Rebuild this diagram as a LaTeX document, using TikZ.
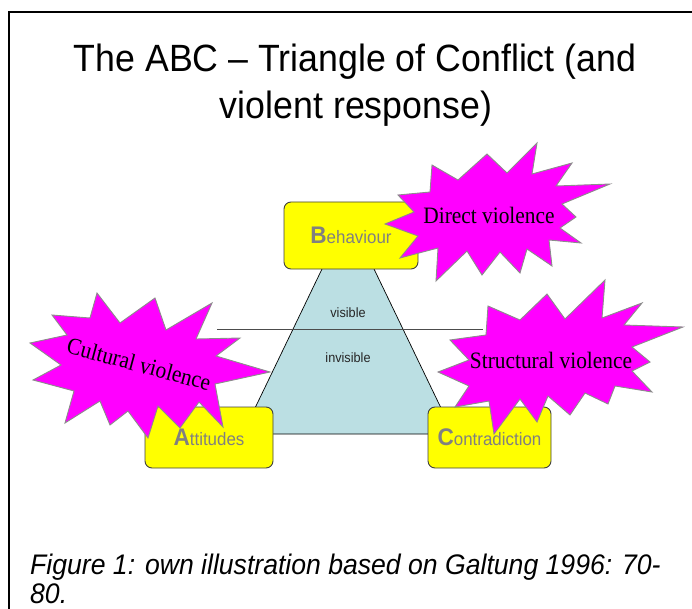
\documentclass[tikz,border=0pt]{standalone}
\usepackage{fontspec}
\setmainfont{Liberation Sans}[FakeStretch=0.94]
\newfontfamily\burstfont{Liberation Serif}[FakeStretch=0.91]
\usetikzlibrary{positioning}

\definecolor{boxyellow}{RGB}{255,255,0}
\definecolor{burstpink}{RGB}{255,0,255}
\definecolor{triblue}{RGB}{187,223,227}
\definecolor{lettergray}{RGB}{128,128,128}

\tikzset{
  abcbox/.style={draw=black!75, fill=boxyellow, rounded corners=7pt, line width=0.9pt,
    text=lettergray, inner sep=0pt},
  burst/.style={draw=black!45, fill=burstpink, line width=0.9pt, line join=miter},
  bursttext/.style={font=\burstfont\fontsize{23.5}{26}\selectfont, inner sep=0pt},
  layer/.style={font=\fontsize{13.5}{15}\selectfont, text=black!85, inner sep=0pt}
}

% big first letter, rest small
\newcommand{\abc}[2]{{\fontsize{24}{24}\selectfont\bfseries #1}{\fontsize{18}{18}\selectfont #2}}

\begin{document}
\begin{tikzpicture}[x=1pt, y=-1pt]
\useasboundingbox (0,0) rectangle (692,609);
% frame
\draw[line width=2pt] (8.5,609) -- (8.5,12.5) -- (692,12.5);

% title
\node (title1) [anchor=base, font=\fontsize{38}{46}\selectfont, inner sep=0pt] at (355,72) {The ABC – Triangle of Conflict (and};
\node (title2) [anchor=base, font=\fontsize{38}{46}\selectfont, inner sep=0pt] at (356,119) {violent response)};

% triangle
\coordinate (apex) at (348,215);
\coordinate (baseL) at (242.5,434);
\coordinate (baseR) at (453.5,434);
\filldraw[fill=triblue, draw=black, line width=0.7pt] (apex) -- (baseL) -- (baseR) -- cycle;

% visible / invisible line
\coordinate (lineL) at (217,329);
\coordinate (lineR) at (483,329);
\draw[black!70, line width=1pt] (lineL) -- (lineR);
\node (vis) [layer] at (348,313) {visible};
\node (invis) [layer] at (348,358) {invisible};

% corners
\node (B) [abcbox, minimum width=134pt, minimum height=67pt] at (351,235.5) {\abc{B}{ehaviour}};
\node (A) [abcbox, minimum width=128pt, minimum height=61pt] at (209,437.5) {\abc{A}{ttitudes}};
\node (C) [abcbox, minimum width=123pt, minimum height=61pt] at (489.5,437.5) {\abc{C}{ontradiction}};

% direct violence
\filldraw[burst] (537,143) -- (532,174) -- (572,163) -- (556,186) -- (610,184) -- (562,204)
  -- (576,217) -- (560,228) -- (581,243) -- (549,240) -- (552,266) -- (527,249)
  -- (520,273) -- (500,252) -- (482,275) -- (467,251) -- (436,281) -- (438,248)
  -- (400,258) -- (418,236) -- (385,224) -- (414,212) -- (398,195) -- (430,192)
  -- (432,165) -- (458,180) -- (487,154) -- (507,173) -- cycle;
\node (direct) [bursttext] at (489,215) {Direct violence};

% cultural violence
\filldraw[burst] (97,293) -- (120,323) -- (155,298) -- (166,330) -- (212,303) -- (196,339)
  -- (240,338) -- (216,356) -- (270,372) -- (215,384) -- (223,427) -- (199,402)
  -- (180,428) -- (158,406) -- (148,438) -- (128,411) -- (110,425) -- (100,401)
  -- (65,423) -- (74,391) -- (33,380) -- (61,365) -- (30,343) -- (67,335)
  -- (52,315) -- (90,318) -- cycle;
\node (cultural) [bursttext, rotate=-15] at (139,364) {Cultural violence};

% structural violence
\filldraw[burst] (605,280) -- (602,318) -- (642,303) -- (624,325) -- (683,327) -- (632,347)
  -- (650,362) -- (632,371) -- (652,392) -- (615,386) -- (608,404) -- (585,393)
  -- (570,415) -- (548,396) -- (537,422) -- (520,399) -- (494,434) -- (489,401)
  -- (455,407) -- (469,386) -- (438,372) -- (469,360) -- (450,340) -- (486,335)
  -- (488,306) -- (520,320) -- (547,294) -- (565,319) -- cycle;
\node (structural) [bursttext] at (551,360) {Structural violence};

% caption
\node (cap1) [anchor=base west, font=\itshape\fontsize{28.3}{30}\selectfont, inner sep=0pt] at (30,574) {Figure 1: own illustration based on Galtung 1996: 70-};
\node (cap2) [anchor=base west, font=\itshape\fontsize{28.3}{30}\selectfont, inner sep=0pt] at (30,603) {80.};
\end{tikzpicture}
\end{document}
